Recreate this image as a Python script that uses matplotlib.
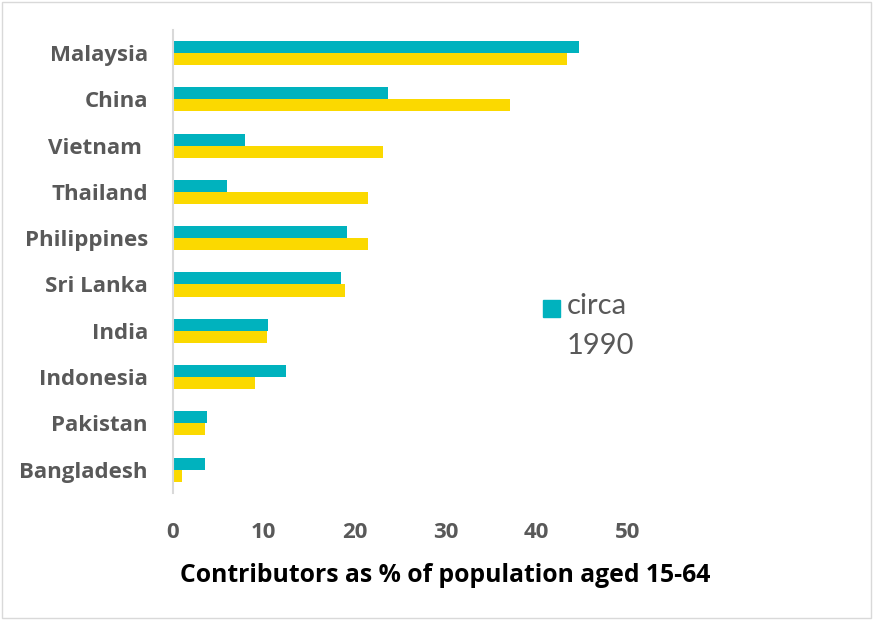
import numpy as np
import matplotlib.pyplot as plt
from matplotlib.patches import Rectangle

# dane (od dolu do gory)
countries = ['Bangladesh', 'Pakistan', 'Indonesia', 'India', 'Sri Lanka',
             'Philippines', 'Thailand', 'Vietnam ', 'China', 'Malaysia']
circa_1990 = [3.5, 3.7, 12.4, 10.5, 18.5, 19.1, 6.0, 7.9, 23.7, 44.7]
recent = [1.0, 3.5, 9.0, 10.3, 18.9, 21.4, 21.4, 23.1, 37.1, 43.3]

teal = '#00B2BE'
yellow = '#FBD900'
grey = '#595959'

plt.rcParams['font.family'] = ['Open Sans', 'DejaVu Sans']

fig = plt.figure(figsize=(8.73, 6.2), dpi=100)
ax = fig.add_axes([0.198, 0.205, 0.521, 0.747])

y = np.arange(len(countries))
h = 0.26
ax.barh(y + h / 2, circa_1990, height=h, color=teal, label='circa 1990')
ax.barh(y - h / 2, recent, height=h, color=yellow)

ax.set_xlim(0, 50)
ax.set_ylim(-0.5, len(countries) - 0.5)
ax.set_xticks(range(0, 51, 10))
ax.set_yticks(y)
ax.set_yticklabels(countries)
ax.tick_params(axis='x', length=0, pad=21, labelsize=16, labelcolor=grey)
ax.tick_params(axis='y', length=0, pad=18, labelsize=16, labelcolor=grey)
for lab in ax.get_xticklabels() + ax.get_yticklabels():
    lab.set_fontweight('bold')

for s in ['top', 'right', 'bottom']:
    ax.spines[s].set_visible(False)
ax.spines['left'].set_color('#D9D9D9')
ax.spines['left'].set_linewidth(1.5)

fig.text(445 / 873, 1 - 575 / 620, 'Contributors as % of population aged 15-64',
         ha='center', va='center', fontsize=17.8, fontweight='bold', color='black')

# legenda (tylko pierwsza seria widoczna)
fig.patches.append(Rectangle((543 / 873, 1 - 317 / 620), 17 / 873, 17 / 620,
                             transform=fig.transFigure, color=teal))
fig.text(567 / 873, 1 - 306 / 620, 'circa', ha='left', va='center',
         fontsize=21, color=grey, family=['Lato', 'DejaVu Sans'])
fig.text(567 / 873, 1 - 346 / 620, '1990', ha='left', va='center',
         fontsize=21, color=grey, family=['Lato', 'DejaVu Sans'])

# ramka
fig.patches.append(Rectangle((0.002, 0.003), 0.996, 0.994, transform=fig.transFigure,
                             fill=False, edgecolor='#D9D9D9', linewidth=1))

fig.savefig('out.png', dpi=100)
